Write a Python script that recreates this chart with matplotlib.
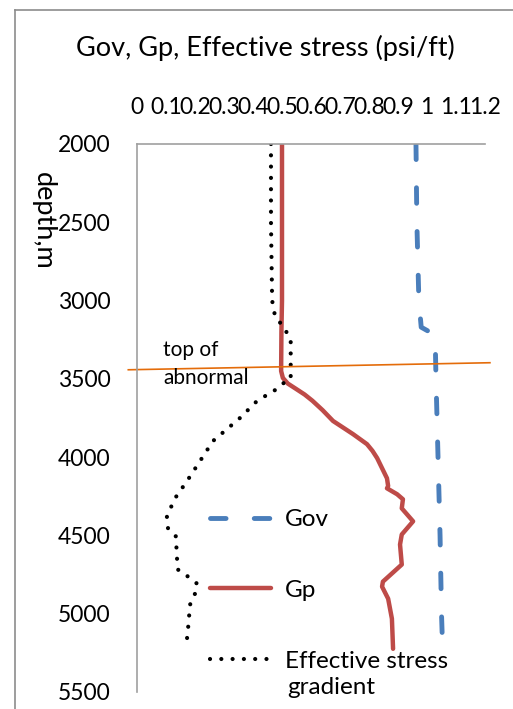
import matplotlib
matplotlib.use("Agg")
import matplotlib.pyplot as plt
from matplotlib.lines import Line2D

plt.rcParams['font.family'] = ['Lato', 'DejaVu Sans']

# Gov (overburden gradient)
gov_depth = [2000, 2500, 3000, 3170, 3220, 3500, 4000, 4500, 5000, 5170]
gov = [0.962, 0.965, 0.972, 0.98, 1.028, 1.031, 1.038, 1.045, 1.05, 1.053]

# Gp (pore pressure gradient)
gp_depth = [2000, 2500, 3000, 3200, 3450, 3494, 3530, 3560, 3600, 3640, 3700, 3769,
            3853, 3917, 3960, 4006, 4135, 4185, 4199, 4237, 4269, 4327, 4410, 4494,
            4558, 4686, 4795, 4827, 4904, 5032, 5224]
gp = [0.50, 0.50, 0.50, 0.498, 0.497, 0.503, 0.52, 0.545, 0.578, 0.605, 0.64, 0.676,
      0.745, 0.793, 0.812, 0.828, 0.862, 0.866, 0.862, 0.897, 0.917, 0.913, 0.952, 0.913,
      0.907, 0.913, 0.848, 0.845, 0.866, 0.879, 0.883]

# effective stress gradient
es_depth = [2000, 2500, 3000, 3100, 3173, 3250, 3500, 3513, 3564, 3641, 3750, 3897,
            4026, 4154, 4263, 4378, 4455, 4506, 4647, 4718, 4763, 4808, 4872, 4942,
            5096, 5167]
es = [0.462, 0.462, 0.466, 0.476, 0.507, 0.53, 0.53, 0.514, 0.483, 0.414, 0.355, 0.262,
      0.217, 0.172, 0.131, 0.103, 0.107, 0.134, 0.138, 0.141, 0.176, 0.207, 0.2, 0.183,
      0.176, 0.172]

# top of abnormal pressure line
top_x = [-0.03, 1.217]
top_depth = [3442, 3397]

xticks = [0, 0.1, 0.2, 0.3, 0.4, 0.5, 0.6, 0.7, 0.8, 0.9, 1, 1.1, 1.2]
xlabels = ["0", "0.1", "0.2", "0.3", "0.4", "0.5", "0.6", "0.7", "0.8", "0.9", "1", "1.1", "1.2"]
yticks = [2000, 2500, 3000, 3500, 4000, 4500, 5000, 5500]

fig = plt.figure(figsize=(5.13, 7.09), dpi=100)
ax = fig.add_axes([137/513, 17/709, 348/513, 548/709])

ax.plot(gov, gov_depth, color="#4A7EBB", lw=3.5, linestyle=(0, (3.2, 5.8)),
        dash_capstyle="round", label="Gov")
ax.plot(gp, gp_depth, color="#BE4B48", lw=3.2, solid_capstyle="round",
        solid_joinstyle="round", label="Gp")
ax.plot(es, es_depth, color="black", lw=3, linestyle=(0, (0.01, 2.7)),
        dash_capstyle="round", label="Effective stress")
ax.plot(top_x, top_depth, color="#E46C0A", lw=1.2, clip_on=False)
ax.text(0.09, 3405, "top of\nabnormal", fontsize=15, va="center", ha="left",
        linespacing=1.55)

ax.set_xlim(0, 1.2)
ax.set_ylim(5500, 2000)
ax.set_xticks(xticks)
ax.set_xticklabels(xlabels)
ax.set_yticks(yticks)
ax.xaxis.tick_top()
ax.tick_params(axis="x", length=0, pad=19, labelsize=16.5)
ax.tick_params(axis="y", length=0, pad=19, labelsize=16.5)
for s in ["right", "bottom"]:
    ax.spines[s].set_visible(False)
for s in ["left", "top"]:
    ax.spines[s].set_color("#A0A0A0")
    ax.spines[s].set_linewidth(1.2)

ax.legend(loc="upper left", bbox_to_anchor=(210/513, 1 - 509/709),
          bbox_transform=fig.transFigure, frameon=False, fontsize=17.5,
          borderpad=0, borderaxespad=0, handlelength=2.5, handletextpad=0.6,
          labelspacing=2.05)
fig.text(287/513, 1 - 688/709, "gradient", fontsize=17.5, ha="left", va="center")

fig.text(265/513, 1 - 48/709, "Gov, Gp, Effective stress (psi/ft)", fontsize=19.5,
         ha="center", va="center")
fig.text(43/513, 1 - 221/709, "depth,m", fontsize=19.5, rotation=270,
         ha="center", va="center")

# outer chart border
fig.add_artist(Line2D([15/513, 15/513], [0, 1 - 10/709], transform=fig.transFigure,
                      color="#8C8C8C", lw=1.2))
fig.add_artist(Line2D([15/513, 1], [1 - 10/709, 1 - 10/709], transform=fig.transFigure,
                      color="#8C8C8C", lw=1.2))

fig.savefig("out.png", dpi=100)
